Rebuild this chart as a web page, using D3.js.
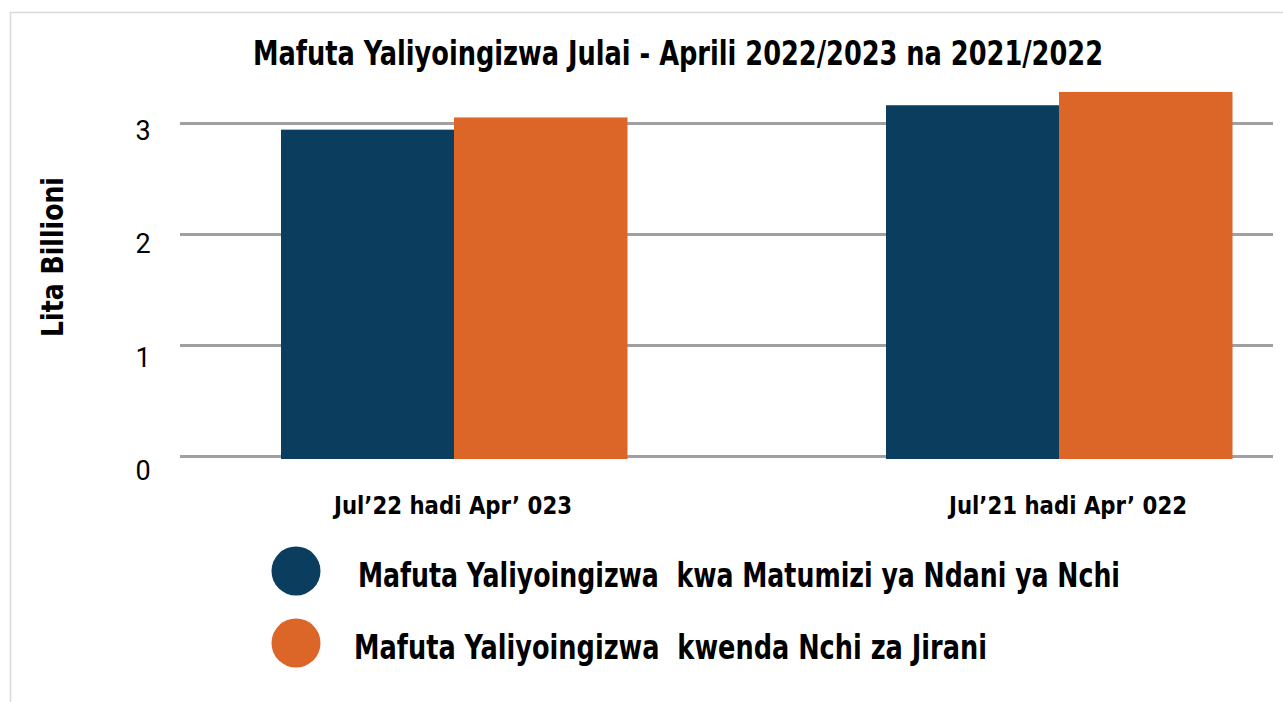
<!DOCTYPE html>
<html>
<head>
<meta charset="utf-8">
<title>Mafuta Yaliyoingizwa</title>
<script src="https://cdn.jsdelivr.net/npm/d3@7"></script>
<style>
  body { margin:0; background:#fff; }
  text { font-family:"Liberation Sans Narrow","DejaVu Sans Condensed",Arial,sans-serif; }
</style>
</head>
<body>
<svg id="mySVG" width="1283" height="702"></svg>
<script>
//---data---
var categories=["Jul\u201922 hadi Apr\u2019 023","Jul\u201921 hadi Apr\u2019 022"]
var seriesNames=["Mafuta Yaliyoingizwa  kwa Matumizi ya Ndani ya Nchi","Mafuta Yaliyoingizwa  kwenda Nchi za Jirani"]
var domestic=[2.94,3.16]
var transit=[3.05,3.28]
var yTicks=[0,1,2,3]
var colors=["#0b3d5f","#dc6628"]

var svg=d3.select("#mySVG")

//---frame---
svg.append("rect")
  .attr("x",10.5).attr("y",12.5)
  .attr("width",1300).attr("height",720)
  .attr("fill","none")
  .attr("stroke","#d9d9d9")
  .attr("stroke-width",1.5)

//---scales---
var y=d3.scaleLinear().domain([0,3]).range([456,123])
var yLabel=d3.scaleLinear().domain([0,3]).range([480,140])   // labels sit a bit below their lines
var x0=d3.scaleOrdinal().domain(categories).range([281,886])
var x1=d3.scaleBand().domain([0,1]).range([0,346])

//---gridlines---
svg.append("g")
  .attr("transform","translate(180,0)")
  .call(d3.axisLeft(y).tickValues(yTicks).tickSize(-1093).tickFormat(""))
  .call(function(g){ g.select(".domain").remove() })
  .selectAll("line")
  .attr("stroke","#a0a0a3")
  .attr("stroke-width",3)

//---tick labels---
svg.append("g").selectAll("text")
  .data(yTicks).join("text")
  .attr("x",143)
  .attr("y",function(d){ return yLabel(d) })
  .attr("text-anchor","middle")
  .attr("font-size",27)
  .style("font-family","Roboto, 'Liberation Sans', sans-serif")
  .attr("fill","#000")
  .text(function(d){ return d })

//---bars---
var groups=svg.append("g").selectAll("g")
  .data(categories).join("g")
  .attr("transform",function(d){ return "translate("+x0(d)+",0)" })

groups.selectAll("rect")
  .data(function(d,i){ return [domestic[i],transit[i]] })
  .join("rect")
  .attr("x",function(d,j){ return x1(j) })
  .attr("y",function(d){ return y(d) })
  .attr("width",x1.bandwidth()+0.5)
  .attr("height",function(d){ return y(0)-y(d)+3 })
  .attr("fill",function(d,j){ return colors[j] })

//---category labels---
var labelShift=[172,182]
svg.append("g").selectAll("text")
  .data(categories).join("text")
  .attr("x",function(d,i){ return x0(d)+labelShift[i] })
  .attr("y",514)
  .attr("text-anchor","middle")
  .attr("font-size",24)
  .attr("font-weight","bold")
  .attr("textLength",238)
  .attr("lengthAdjust","spacingAndGlyphs")
  .text(function(d){ return d })

//---title---
svg.append("text")
  .attr("x",678)
  .attr("y",65)
  .attr("text-anchor","middle")
  .attr("font-size",33)
  .attr("font-weight","bold")
  .attr("textLength",850)
  .attr("lengthAdjust","spacingAndGlyphs")
  .text("Mafuta Yaliyoingizwa Julai - Aprili 2022/2023 na 2021/2022")

//---y axis title---
svg.append("text")
  .attr("transform","translate(63,257) rotate(-90)")
  .attr("text-anchor","middle")
  .attr("font-size",30)
  .attr("font-weight","bold")
  .attr("textLength",160)
  .attr("lengthAdjust","spacingAndGlyphs")
  .text("Lita Billioni")

//---legend---
var legendY=[571,643]
var legendX=[358,354]
var legendW=[762,633]
var legend=svg.append("g").selectAll("g")
  .data(seriesNames).join("g")
legend.append("circle")
  .attr("cx",296)
  .attr("cy",function(d,i){ return legendY[i] })
  .attr("r",24.5)
  .attr("fill",function(d,i){ return colors[i] })
legend.append("text")
  .attr("x",function(d,i){ return legendX[i] })
  .attr("y",function(d,i){ return legendY[i]+16 })
  .attr("font-size",33)
  .attr("font-weight","bold")
  .attr("textLength",function(d,i){ return legendW[i] })
  .attr("lengthAdjust","spacingAndGlyphs")
  .style("white-space","pre")
  .text(function(d){ return d })
</script>
</body>
</html>
